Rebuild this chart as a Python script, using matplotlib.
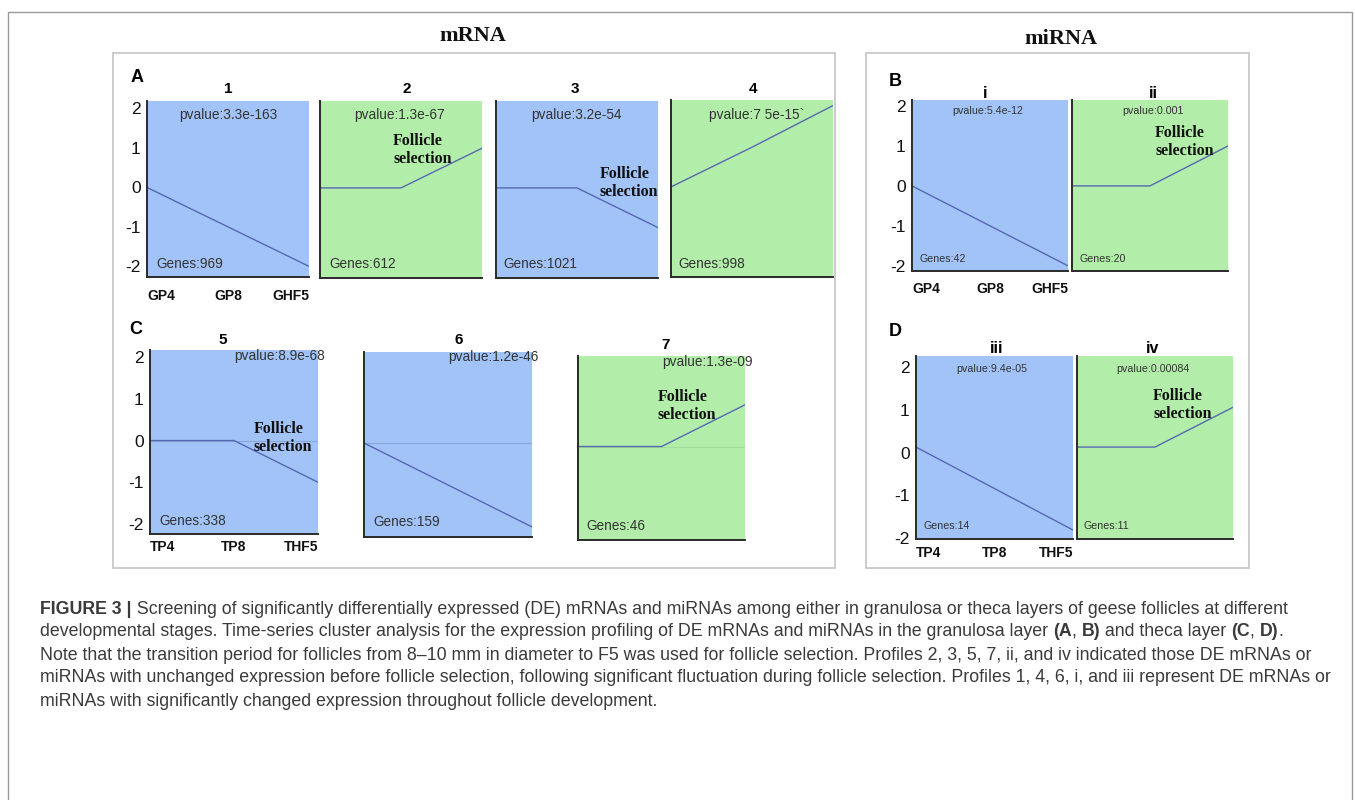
import matplotlib
matplotlib.use('Agg')
import matplotlib.pyplot as plt
from matplotlib.patches import Rectangle

# time points and stage names
stages = [0, 1, 2]
g_labels = ['GP4', 'GP8', 'GHF5']
t_labels = ['TP4', 'TP8', 'THF5']

# A: mRNA, granulosa
a_ids = ['1', '2', '3', '4']
a_profiles = [[0, -1, -2], [0, 0, 1], [0, 0, -1], [0, 1, 2.05]]
a_pvalues = ['pvalue:3.3e-163', 'pvalue:1.3e-67', 'pvalue:3.2e-54', 'pvalue:7 5e-15`']
a_genes = [969, 612, 1021, 998]

# B: miRNA, granulosa
b_ids = ['i', 'ii']
b_profiles = [[0, -1, -2], [0, 0, 1]]
b_pvalues = ['pvalue:5.4e-12', 'pvalue:0.001']
b_genes = [42, 20]

# C: mRNA, theca
c_ids = ['5', '6', '7']
c_profiles = [[0, 0, -1], [0, -1, -2], [0, 0, 1]]
c_pvalues = ['pvalue:8.9e-68', 'pvalue:1.2e-46', 'pvalue:1.3e-09']
c_genes = [338, 159, 46]

# D: miRNA, theca
d_ids = ['iii', 'iv']
d_profiles = [[0.13, -0.84, -1.81], [0.13, 0.13, 1.06]]
d_pvalues = ['pvalue:9.4e-05', 'pvalue:0.00084']
d_genes = [14, 11]

W, H = 1355, 800
fig = plt.figure(figsize=(W / 100, H / 100), dpi=100)

BLUE = '#A2C3F8'
GREEN = '#B2EEA9'
LINE = '#5668b2'
TXT = '#333333'
SANS = ['Liberation Sans', 'DejaVu Sans']
SERIF = ['Liberation Serif', 'DejaVu Serif']


def fx(x):
    return x / W


def fy(y):
    return 1 - y / H


def box(x0, y0, x1, y1):
    return [fx(x0), fy(y1), (x1 - x0) / W, (y1 - y0) / H]


def ftext(x, y, s, **kw):
    kw.setdefault('ha', 'center')
    kw.setdefault('va', 'center')
    return fig.text(fx(x), fy(y), s, **kw)


# frames
fig.patches.append(Rectangle((fx(8), fy(815)), (1352 - 8) / W, (815 - 12) / H,
                             transform=fig.transFigure, fill=False, ec='#9a9a9a', lw=1.0))
for x0, x1 in [(113, 835), (866, 1249)]:
    fig.patches.append(Rectangle((fx(x0), fy(568)), (x1 - x0) / W, (568 - 53) / H,
                                 transform=fig.transFigure, fill=False, ec='#c4c4c4', lw=1.2))

ftext(473, 36, 'mRNA', family=SERIF, weight='bold', fontsize=16, color='#111111')
ftext(1061, 39, 'miRNA', family=SERIF, weight='bold', fontsize=16, color='#111111')


def profile(rect, ylim, vals, first, xlabels=None, xpad=6, zero=False):
    up = vals[-1] > vals[0]
    ax = fig.add_axes(box(*rect))
    ax.set_facecolor(GREEN if up else BLUE)
    if zero:
        ax.axhline(0, color='#6f8fc0' if not up else '#8fcf8a', lw=0.8, alpha=0.5)
    ax.plot(stages, vals, color=LINE, lw=1.0)
    ax.set_xlim(0, 2)
    ax.set_ylim(*ylim)
    for s in ['top', 'right']:
        ax.spines[s].set_visible(False)
    for s in ['left', 'bottom']:
        ax.spines[s].set_color('#2a2a2a')
        ax.spines[s].set_linewidth(1.4)
    ax.tick_params(length=0)
    if first:
        ax.set_yticks([-2, -1, 0, 1, 2])
        ax.set_yticklabels(['-2', '-1', '0', '1', '2'], fontsize=12.5,
                           family=SANS, color='#111111')
        ax.tick_params(axis='y', pad=4.5)
    else:
        ax.set_yticks([])
    if xlabels:
        ax.set_xticks(stages)
        ax.set_xticklabels(xlabels, fontsize=10, weight='bold', family=SANS, color='#111111')
        for lb, ha in zip(ax.get_xticklabels(), ['left', 'center', 'right']):
            lb.set_ha(ha)
        ax.tick_params(axis='x', pad=xpad)
    else:
        ax.set_xticks([])
    return ax


def sel_text(x, y):
    ftext(x, y, 'Follicle\nselection', ha='left', family=SERIF, weight='bold',
          fontsize=11.5, color='#111111', linespacing=1.1)


# ---- panel A
a_rects = [(147, 101, 309, 277), (320, 101, 482, 278), (496, 101, 658, 278), (671, 100, 833, 277)]
a_ylim = (-2.27, 2.19)
a_title_x = [228, 407, 575, 753]
a_pv_x = [228, 399, 576, 757]
a_gene_x = [156, 329, 503, 678]
a_sel = {1: (393, 150), 2: (600, 183)}
ftext(137, 77, 'A', weight='bold', fontsize=13, family=SANS)
for i in range(4):
    profile(a_rects[i], a_ylim, a_profiles[i], i == 0, g_labels if i == 0 else None, xpad=9)
    ftext(a_title_x[i], 89, a_ids[i], weight='bold', fontsize=11, family=SANS)
    ftext(a_pv_x[i], 115, a_pvalues[i], fontsize=9.8, family=SANS, color=TXT)
    ftext(a_gene_x[i], 264, 'Genes:%d' % a_genes[i], ha='left', fontsize=9.8, family=SANS, color=TXT)
    if i in a_sel:
        sel_text(*a_sel[i])

# ---- panel B
b_rects = [(912, 100, 1068, 271), (1072, 100, 1228, 271)]
b_ylim = (-2.13, 2.15)
b_title_x = [985, 1153]
b_pv_x = [988, 1153]
b_gene_x = [920, 1080]
ftext(895, 82, 'B', weight='bold', fontsize=13, family=SANS)
for i in range(2):
    profile(b_rects[i], b_ylim, b_profiles[i], i == 0, g_labels if i == 0 else None, xpad=8)
    ftext(b_title_x[i], 93, b_ids[i], weight='bold', fontsize=11.5, family=SANS)
    ftext(b_pv_x[i], 111, b_pvalues[i], fontsize=7.7, family=SANS, color=TXT)
    ftext(b_gene_x[i], 259, 'Genes:%d' % b_genes[i], ha='left', fontsize=7.7, family=SANS, color=TXT)
sel_text(1155, 142)

# ---- panel C
c_rects = [(150, 350, 318, 534), (364, 352, 532, 537), (578, 356, 745, 540)]
c_ylim = (-2.24, 2.17)
c_title = [(223, 340), (459, 340), (666, 345)]
c_pv = [(234, 356), (448, 357), (662, 362)]
c_gene = [(159, 521), (373, 522), (586, 526)]
c_sel = {0: (254, 438), 2: (658, 406)}
ftext(136, 330, 'C', weight='bold', fontsize=13, family=SANS)
for i in range(3):
    profile(c_rects[i], c_ylim, c_profiles[i], i == 0, t_labels if i == 0 else None,
            xpad=4, zero=True)
    ftext(*c_title[i], c_ids[i], weight='bold', fontsize=11, family=SANS)
    ftext(*c_pv[i], c_pvalues[i], ha='left', fontsize=9.8, family=SANS, color=TXT)
    ftext(*c_gene[i], 'Genes:%d' % c_genes[i], ha='left', fontsize=9.8, family=SANS, color=TXT)
    if i in c_sel:
        sel_text(*c_sel[i])

# ---- panel D
d_rects = [(916, 356, 1073, 539), (1077, 356, 1233, 539)]
d_ylim = (-2.02, 2.26)
d_title_x = [997, 1153]
d_pv_x = [992, 1153]
d_gene_x = [923, 1084]
ftext(895, 331, 'D', weight='bold', fontsize=13, family=SANS)
for i in range(2):
    profile(d_rects[i], d_ylim, d_profiles[i], i == 0, t_labels if i == 0 else None, xpad=5)
    ftext(d_title_x[i], 348, d_ids[i], weight='bold', fontsize=11.5, family=SANS)
    ftext(d_pv_x[i], 369, d_pvalues[i], fontsize=7.7, family=SANS, color=TXT)
    ftext(d_gene_x[i], 526, 'Genes:%d' % d_genes[i], ha='left', fontsize=7.7, family=SANS, color=TXT)
sel_text(1153, 405)

# ---- caption, with bold pieces
B, N = 'bold', 'normal'
caption = [
    [('FIGURE 3 |', B), (' Screening of significantly differentially expressed (DE) mRNAs and miRNAs '
                         'among either in granulosa or theca layers of geese follicles at different', N)],
    [('developmental stages. Time-series cluster analysis for the expression profiling of DE mRNAs '
      'and miRNAs in the granulosa layer ', N), ('(A', B), (', ', N), ('B)', B),
     (' and theca layer ', N), ('(C', B), (', ', N), ('D)', B), ('.', N)],
    [('Note that the transition period for follicles from 8\u201310 mm in diameter to F5 was used for '
      'follicle selection. Profiles 2, 3, 5, 7, ii, and iv indicated those DE mRNAs or', N)],
    [('miRNAs with unchanged expression before follicle selection, following significant fluctuation '
      'during follicle selection. Profiles 1, 4, 6, i, and iii represent DE mRNAs or', N)],
    [('miRNAs with significantly changed expression throughout follicle development.', N)],
]
renderer = fig.canvas.get_renderer()
for k, parts in enumerate(caption):
    x = 40
    y = 609 + 23 * k
    for s, w in parts:
        t = ftext(x, y, s, ha='left', weight=w, fontsize=12.8, family=SANS, color='#3a3a3a')
        x += t.get_window_extent(renderer).width

fig.savefig('out.png', dpi=100, facecolor='white')
